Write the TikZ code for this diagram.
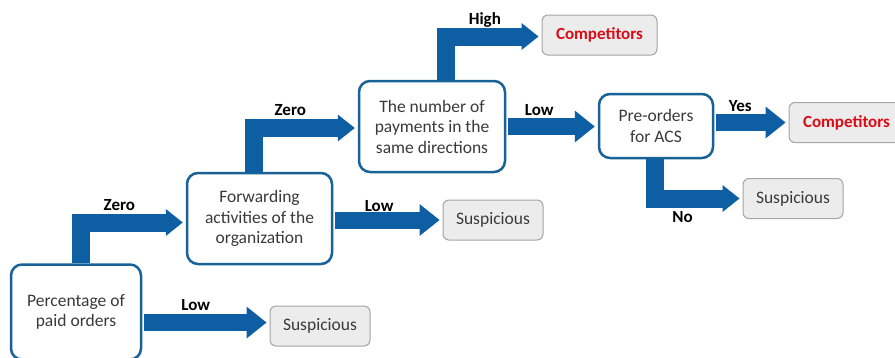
\documentclass[tikz,border=0pt]{standalone}
\usepackage{fontspec}
\setmainfont{Carlito}
\usepackage{tikz}
\usetikzlibrary{arrows.meta}
\definecolor{flowblue}{RGB}{14,94,164}
\definecolor{boxblue}{RGB}{24,98,152}
\definecolor{outfill}{RGB}{236,236,236}
\definecolor{outline}{RGB}{165,165,165}
\definecolor{txtgray}{RGB}{58,58,58}
\definecolor{compred}{RGB}{218,12,22}

\begin{document}
\begin{tikzpicture}[x=1pt, y=-1pt, line width=0.5pt,
    font=\fontsize{17.5pt}{20.5pt}\selectfont,
    decision/.style={draw=boxblue, line width=2.5pt, rounded corners=11pt,
        fill=white, text=txtgray, align=center, inner sep=0pt},
    outcome/.style={draw=outline, line width=1pt, rounded corners=6pt,
        fill=outfill, text=txtgray, align=center, inner sep=0pt,
        minimum width=100pt, minimum height=40pt},
    winner/.style={outcome, text=compred, minimum width=115pt,
        font=\fontsize{17pt}{20.5pt}\selectfont\bfseries},
    flow/.style={draw=flowblue, line width=17pt, shorten >=3pt, shorten <=2pt,
        -{Triangle[width=32pt, length=20pt, line width=0pt 0 0]}},
    elbow/.style={draw=flowblue, line width=18pt, shorten >=3pt, shorten <=0pt,
        -{Triangle[width=27pt, length=17pt, line width=0pt 0 0]}},
    lbl/.style={font=\fontsize{17pt}{20.5pt}\selectfont\bfseries, text=black,
        anchor=base, inner sep=0pt, yshift=12.5pt}]

    \clip (0,0) rectangle (895,357);
    \fill[white] (0,0) rectangle (895,357);

    % questions
    \node[decision, minimum width=130pt, minimum height=95pt] (pct) at (76,312) {Percentage of\\paid orders};
    \node[decision, minimum width=145pt, minimum height=91pt] (fwd) at (259.5,218.5) {Forwarding\\activities of the\\organization};
    \node[decision, minimum width=146pt, minimum height=91pt] (num) at (432,126.5) {The number of\\payments in the\\same directions};
    \node[decision, minimum width=114pt, minimum height=64pt] (pre) at (656,126) {Pre-orders\\for ACS};

    % answers
    \node[outcome] (susp1) at (320,326) {Suspicious};
    \node[outcome] (susp2) at (493,220) {Suspicious};
    \node[outcome] (susp3) at (793,198.5) {Suspicious};
    \node[winner] (comp1) at (599.5,35) {Competitors};
    \node[winner] (comp2) at (846.5,122.5) {Competitors};

    % arrows
    \draw[flow] ([yshift=3.5pt]pct.east |- susp1.west) -- node[lbl, pos=0.42] {Low} ([yshift=3.5pt]susp1.west);
    \draw[elbow] ([xshift=4.5pt]pct.north) |- node[lbl, pos=0.685] {Zero} ([yshift=-4pt]fwd.west);
    \draw[flow] (fwd.east |- susp2.west) -- node[lbl, pos=0.42, yshift=-3.5pt] {Low} (susp2.west);
    \draw[elbow] ([xshift=-5.5pt]fwd.north) |- node[lbl, pos=0.675] {Zero} ([yshift=-1.5pt]num.west);
    \draw[elbow] ([xshift=13.5pt]num.north) |- node[lbl, pos=0.705] {High} ([yshift=-1.5pt]comp1.west);
    \draw[flow] (num.east) -- node[lbl, pos=0.36, yshift=-1.5pt] {Low} (pre.west |- num.east);
    \draw[flow] (pre.east |- comp2.west) -- node[lbl, pos=0.35, yshift=-1pt] {Yes} (comp2.west);
    \draw[elbow] ([xshift=-1.5pt]pre.south) |- node[lbl, pos=0.66, yshift=-36pt] {No} (susp3.west);
\end{tikzpicture}
\end{document}
